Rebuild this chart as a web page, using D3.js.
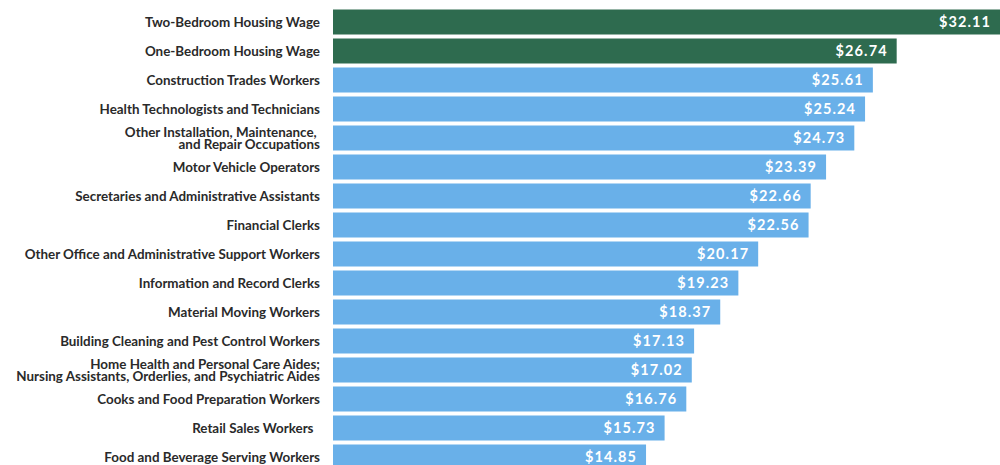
<!DOCTYPE html>
<html>
<head>
<meta charset="utf-8">
<script src="https://cdn.jsdelivr.net/npm/d3@7"></script>
<style>
  body { margin: 0; background: #fff; }
  svg { display: block; }
</style>
</head>
<body>
<script>
// Width and Height
var w = 1000;
var h = 465;

// categories (one entry per bar, multi-line labels split on |)
var occupations = [
    "Two-Bedroom Housing Wage",
    "One-Bedroom Housing Wage",
    "Construction Trades Workers",
    "Health Technologists and Technicians",
    "Other Installation, Maintenance, |and Repair Occupations",
    "Motor Vehicle Operators",
    "Secretaries and Administrative Assistants",
    "Financial Clerks",
    "Other Office and Administrative Support Workers",
    "Information and Record Clerks",
    "Material Moving Workers",
    "Building Cleaning and Pest Control Workers",
    "Home Health and Personal Care Aides;|Nursing Assistants, Orderlies, and Psychiatric Aides",
    "Cooks and Food Preparation Workers",
    "Retail Sales Workers  ",
    "Food and Beverage Serving Workers"
];

// hourly wage, dollars
var wages = [32.11, 26.74, 25.61, 25.24, 24.73, 23.39, 22.66, 22.56,
             20.17, 19.23, 18.37, 17.13, 17.02, 16.76, 15.73, 14.85];

// housing wage bars are green, occupations blue
var isHousing = [true, true, false, false, false, false, false, false,
                 false, false, false, false, false, false, false, false];

var data = occupations.map(function(d, i) {
    return {name: d, value: wages[i], housing: isHousing[i]};
});

var svg = d3.select("body")
            .append("svg")
            .attr("width", w)
            .attr("height", h);

var y = d3.scaleBand()
    .domain(occupations)
    .range([7.5, 7.5 + 16 * 29])
    .paddingInner(4 / 29)
    .paddingOuter(2 / 29);

var x = d3.scaleLinear()
    .domain([0, 25])
    .range([333, 860]);

svg.selectAll("rect")
    .data(data)
    .enter()
    .append("rect")
    .attr("x", x(0))
    .attr("y", function(d) { return y(d.name); })
    .attr("width", function(d) { return x(d.value) - x(0); })
    .attr("height", y.bandwidth())
    .attr("fill", function(d) { return d.housing ? "#2e6b4f" : "#69b0e9"; });

// value labels inside the bar ends
svg.selectAll("text.value")
    .data(data)
    .enter()
    .append("text")
    .attr("class", "value")
    .text(function(d) { return "$" + d.value.toFixed(2); })
    .attr("x", function(d) { return Math.min(x(d.value), w) - 9; })
    .attr("y", function(d) { return y(d.name) + y.bandwidth() / 2; })
    .attr("dy", "0.36em")
    .attr("text-anchor", "end")
    .attr("font-family", "Lato, sans-serif")
    .attr("font-weight", "bold")
    .attr("font-size", "14.5px")
    .attr("letter-spacing", "1.1px")
    .attr("fill", "white");

// category labels
var labels = svg.selectAll("text.cat")
    .data(data)
    .enter()
    .append("text")
    .attr("class", "cat")
    .attr("text-anchor", "end")
    .attr("font-family", "Lato, sans-serif")
    .attr("font-weight", "bold")
    .attr("font-size", "13.4px")
    .attr("fill", "#2a2a2a")
    .style("white-space", "pre")
    .attr("y", function(d) { return y(d.name) + y.bandwidth() / 2; });

labels.each(function(d) {
    var lines = d.name.split("|");
    var t = d3.select(this);
    lines.forEach(function(line, j) {
        t.append("tspan")
            .attr("x", 320)
            .attr("dy", j === 0 ? (0.36 - (lines.length - 1) * 0.46) + "em" : "0.92em")
            .text(line);
    });
});
</script>
</body>
</html>
